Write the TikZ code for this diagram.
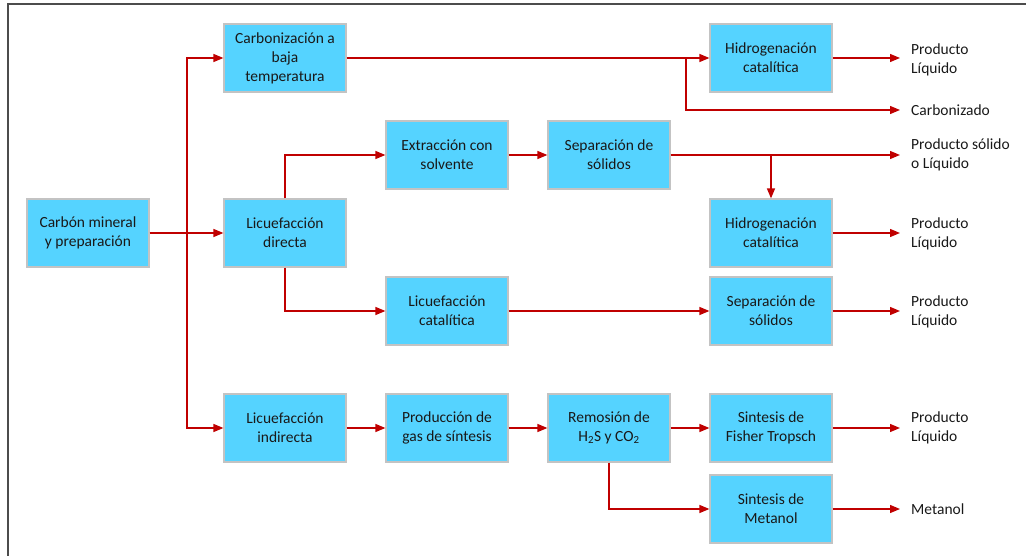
\documentclass[tikz,border=0pt]{standalone}
\usepackage{fontspec}
\setmainfont{Carlito}
\usetikzlibrary{arrows.meta}
\definecolor{boxfill}{RGB}{85,211,255}
\definecolor{boxline}{RGB}{195,195,195}
\definecolor{flow}{RGB}{192,0,0}
\definecolor{ink}{RGB}{25,25,25}
\begin{document}
\begin{tikzpicture}[x=1pt,y=-1pt,
  proc/.style={draw=boxline, line width=1.2pt, fill=boxfill,
    minimum width=122pt, minimum height=68pt, inner sep=2pt,
    align=center, text=ink, font=\fontsize{15.5}{19}\selectfont},
  prod/.style={anchor=west, inner sep=0pt, align=left, text=ink,
    font=\fontsize{15.5}{19}\selectfont},
  flowline/.style={draw=flow, line width=1.3pt},
  tip/.style={flowline, -{Triangle[length=10pt,width=8pt]}}
]
\useasboundingbox (0,0) rectangle (1026,556);

% frame
\draw[line width=1.6pt, color=black!70] (8,556) -- (8,4) -- (1026,4);

% process boxes
\node[proc] (carbon) at (88,233)  {Carbón mineral\\y preparación};
\node[proc] (carb)   at (285,58)  {Carbonización a\\baja\\temperatura};
\node[proc] (lqd)    at (285,233) {Licuefacción\\directa};
\node[proc] (lqi)    at (285,428) {Licuefacción\\indirecta};
\node[proc] (ext)    at (447,155) {Extracción con\\solvente};
\node[proc] (sepa)   at (609,155) {Separación de\\sólidos};
\node[proc] (hyda)   at (771,58)  {Hidrogenación\\catalítica};
\node[proc] (hydb)   at (771,233) {Hidrogenación\\catalítica};
\node[proc] (lqc)    at (447,311) {Licuefacción\\catalítica};
\node[proc] (sepb)   at (771,311) {Separación de\\sólidos};
\node[proc] (gas)    at (447,428) {Producción de\\gas de síntesis};
\node[proc] (rem)    at (609,428) {Remosión de\\H\textsubscript{2}S y CO\textsubscript{2}};
\node[proc] (ft)     at (771,428) {Sintesis de\\Fisher Tropsch};
\node[proc] (met)    at (771,509) {Sintesis de\\Metanol};

% products
\node[prod] (pa) at (911,60)  {Producto\\Líquido};
\node[prod] (pb) at (911,110) {Carbonizado};
\node[prod] (pc) at (911,155) {Producto sólido\\o Líquido};
\node[prod] (pd) at (911,234) {Producto\\Líquido};
\node[prod] (pe) at (911,312) {Producto\\Líquido};
\node[prod] (pf) at (911,428) {Producto\\Líquido};
\node[prod] (pg) at (911,509) {Metanol};

% branching points
\coordinate (bus) at (187,233);
\coordinate (brc) at (686,58);

% feed distribution
\draw[tip] (carbon.east) -- (lqd.west);
\draw[tip] (bus) |- (carb.west);
\draw[tip] (bus) |- (lqi.west);

% low temperature carbonization
\draw[tip] (carb.east) -- (hyda.west);
\draw[tip] (brc) |- ([xshift=-11pt]pb.west);
\draw[tip, shorten >=11pt] (hyda.east) -- (hyda.east -| pa.west);

% direct liquefaction
\draw[tip] (lqd.north) |- (ext.west);
\draw[tip] (lqd.south) |- (lqc.west);
\draw[tip] (ext.east) -- (sepa.west);
\draw[tip, shorten >=11pt] (sepa.east) -- (sepa.east -| pc.west);
\draw[tip] (hydb.north |- sepa.east) -- (hydb.north);
\draw[tip, shorten >=11pt] (hydb.east) -- (hydb.east -| pd.west);
\draw[tip] (lqc.east) -- (sepb.west);
\draw[tip, shorten >=11pt] (sepb.east) -- (sepb.east -| pe.west);

% indirect liquefaction
\draw[tip] (lqi.east) -- (gas.west);
\draw[tip] (gas.east) -- (rem.west);
\draw[tip] (rem.east) -- (ft.west);
\draw[tip, shorten >=11pt] (ft.east) -- (ft.east -| pf.west);
\draw[tip] (rem.south) |- (met.west);
\draw[tip, shorten >=11pt] (met.east) -- (met.east -| pg.west);
\end{tikzpicture}
\end{document}
